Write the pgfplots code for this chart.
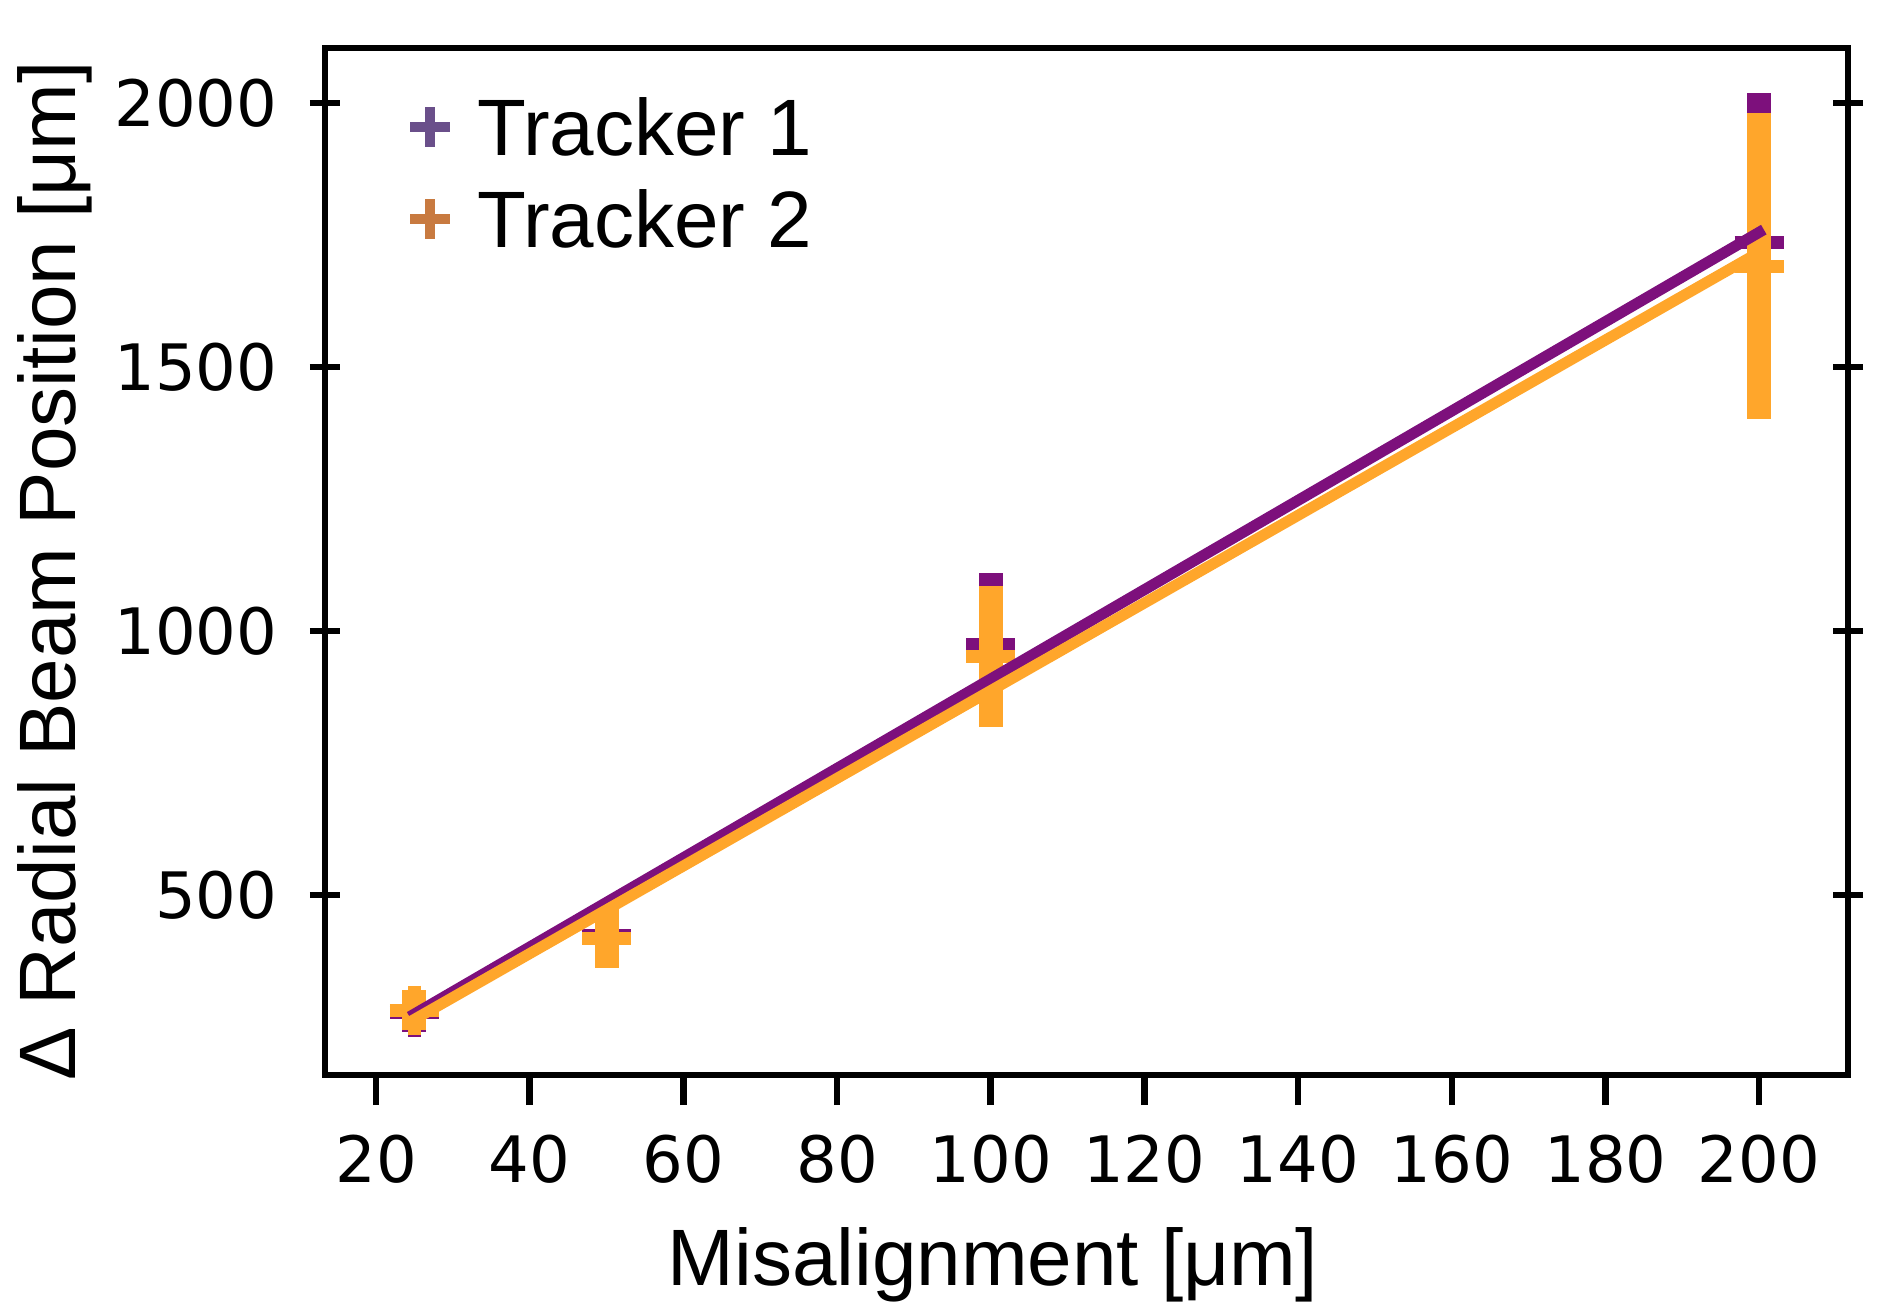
\documentclass[border=0pt]{standalone}
\usepackage{fontspec}
\setmainfont{Liberation Sans}
\newfontfamily\tickfont{DejaVu Sans}
\usepackage{pgfplots}
\pgfplotsset{compat=1.18}
\definecolor{tpurple}{RGB}{125,16,124}
\definecolor{torange}{RGB}{255,166,43}
\definecolor{lpurple}{RGB}{106,79,138}
\definecolor{lorange}{RGB}{200,122,64}

\pgfplotstableread{
x y e
25 278 37
50 424 51
100 975 135
200 1735 284
}\trackerone
\pgfplotstableread{
x y e
25 282 38
50 417 56
100 952 133
200 1691 290
}\trackertwo

\begin{document}
\begin{tikzpicture}
\path[use as bounding box] (0,0) rectangle (471bp,328.5bp);
\begin{axis}[
  at={(81.25bp,59.75bp)}, anchor=south west,
  scale only axis, width=380.75bp, height=256.75bp,
  xmin=13.36, xmax=211.58, ymin=159.1, ymax=2104.2,
  xtick={20,40,...,200}, ytick={500,1000,1500,2000},
  xtick pos=left, ytick pos=both, yticklabel pos=left,
  minor tick num=0,
  clip mode=individual,
  tick align=center, major tick length=7.5bp,
  axis line style={line width=1.6bp, black},
  every tick/.style={black, line width=1.6bp},
  x tick style={yshift=-3.75bp},
  ticklabel style={font=\tickfont\fontsize{16bp}{16bp}\selectfont, inner sep=0pt, text=black},
  /pgf/number format/assume math mode=true,
  /pgf/number format/1000 sep={},
  yticklabel style={anchor=east, xshift=-8bp},
  xticklabel style={anchor=north, yshift=-11bp},
  legend style={at={(axis description cs:0.0526,0.9513)}, anchor=north west,
    draw=none, fill=none, inner sep=0pt, outer sep=0pt,
    font=\fontsize{20bp}{20bp}\selectfont,
    row sep=8.5bp, column sep=5.5bp,
    nodes={inner sep=0pt, text depth=0pt}},
  legend cell align=left,
]
\addlegendimage{legend image code/.code={\draw[lpurple, line width=2.5bp] (-5bp,0bp) -- (5bp,0bp) (0bp,-5bp) -- (0bp,5bp);}}
\addlegendentry{Tracker 1}
\addlegendimage{legend image code/.code={\draw[lorange, line width=2.5bp] (-5bp,0bp) -- (5bp,0bp) (0bp,-5bp) -- (0bp,5bp);}}
\addlegendentry{Tracker 2}

\addplot[only marks, mark=+, color=tpurple, mark size=6.125bp,
  mark options={line width=3.25bp, solid},
  error bars/.cd, y dir=both, y explicit, error mark=none,
  error bar style={line width=6bp, tpurple}]
  table[x=x, y=y, y error=e] {\trackerone};
\addplot[only marks, mark=+, color=torange, mark size=6.125bp,
  mark options={line width=3.25bp, solid},
  error bars/.cd, y dir=both, y explicit, error mark=none,
  error bar style={line width=6bp, torange}]
  table[x=x, y=y, y error=e] {\trackertwo};
\addplot[tpurple, line width=2.75bp, line cap=rect] coordinates {(25,274.5) (200,1755)};
\addplot[torange, line width=2.75bp, line cap=rect] coordinates {(25,264.5) (200,1717)};
\end{axis}
\node[anchor=base, font=\fontsize{20bp}{20bp}\selectfont] at (248.25bp,7.25bp) {Misalignment [μm]};
\node[anchor=base, rotate=90, font=\fontsize{20bp}{20bp}\selectfont] at (18.75bp,185.75bp) {Δ Radial Beam Position [μm]};
\end{tikzpicture}
\end{document}
